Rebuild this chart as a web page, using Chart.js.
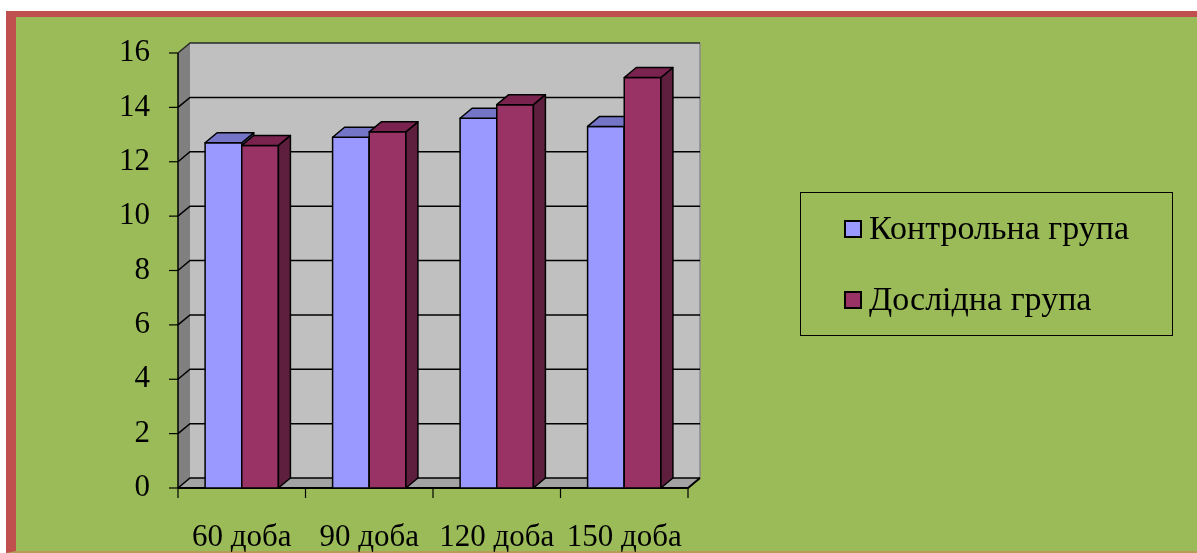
<!DOCTYPE html>
<html>
<head>
<meta charset="utf-8">
<script src="https://cdn.jsdelivr.net/npm/chart.js@4"></script>
<style>
  html, body { margin: 0; padding: 0; background: #fff; overflow: hidden; }
  #frame {
    position: absolute; left: 6px; top: 11px; width: 1200px; height: 534px;
    background: #9bbb59; border-left: 10px solid #c0504d; border-top: 6px solid #c0504d;
    border-bottom: 2px solid #b59c58;
  }
  #out { position: absolute; left: 0; top: 0; }
</style>
</head>
<body>
<div id="frame"></div>
<canvas id="out" width="1197" height="553"></canvas>
<script>
const days = ["60 доба", "90 доба", "120 доба", "150 доба"];
const controlGroup = [12.7, 12.9, 13.6, 13.3];
const testGroup = [12.6, 13.1, 14.1, 15.1];
const yTicks = { min: 0, max: 16, step: 2 };

const FONT = "'Liberation Serif', 'Times New Roman', serif";
const DX = 12, DY = 10; // depth of the 3d box

function poly(ctx, pts, fill, stroke, lw) {
  ctx.beginPath();
  ctx.moveTo(pts[0][0], pts[0][1]);
  for (let i = 1; i < pts.length; i++) ctx.lineTo(pts[i][0], pts[i][1]);
  ctx.closePath();
  if (fill) { ctx.fillStyle = fill; ctx.fill(); }
  if (stroke) { ctx.strokeStyle = stroke; ctx.lineWidth = lw || 1; ctx.stroke(); }
}

function line(ctx, pts, color, lw) {
  ctx.beginPath();
  ctx.moveTo(pts[0][0], pts[0][1]);
  for (let i = 1; i < pts.length; i++) ctx.lineTo(pts[i][0], pts[i][1]);
  ctx.strokeStyle = color;
  ctx.lineWidth = lw || 1;
  ctx.stroke();
}

// walls, floor, gridlines, axes, 3d bars and the legend
const boxPlugin = {
  id: "box3d",
  beforeDatasetsDraw(chart) {
    const ctx = chart.ctx;
    const { left, right, top, bottom } = chart.chartArea;
    const y = chart.scales.y;
    const x = chart.scales.x;
    ctx.save();
    // back wall
    poly(ctx, [[left + DX, top - DY], [right + DX, top - DY], [right + DX, bottom - DY], [left + DX, bottom - DY]], "#c0c0c0");
    line(ctx, [[right + DX, top - DY], [right + DX, bottom - DY]], "#8a8a8a", 1.5);
    // left wall
    poly(ctx, [[left, top], [left + DX, top - DY], [left + DX, bottom - DY], [left, bottom]], "#808080");
    // floor
    poly(ctx, [[left, bottom], [right, bottom], [right + DX, bottom - DY], [left + DX, bottom - DY]], "#a3a3a3");
    // gridlines
    for (let v = yTicks.min; v <= yTicks.max; v += yTicks.step) {
      const py = y.getPixelForValue(v);
      const col = v === yTicks.max ? "#2a2a2a" : "#000";
      line(ctx, [[left, py], [left + DX, py - DY], [right + DX, py - DY]], col, 1.5);
      line(ctx, [[left - 9, py], [left, py]], "#000", 1.2);
    }
    // axes
    line(ctx, [[left, top], [left, bottom]], "#000", 1.5);
    line(ctx, [[left, bottom], [right, bottom], [right + DX, bottom - DY]], "#000", 2);
    for (let i = 0; i <= days.length; i++) {
      const px = x.getPixelForValue(i - 0.5);
      line(ctx, [[px, bottom], [px, bottom + 10]], "#000", 1.2);
    }
    ctx.restore();
  },
  beforeDatasetDraw() {
    return false; // bars are drawn as boxes below
  },
  afterDatasetsDraw(chart) {
    const ctx = chart.ctx;
    ctx.save();
    ctx.lineJoin = "round";
    chart.data.datasets.forEach((ds, di) => {
      chart.getDatasetMeta(di).data.forEach(el => {
        const p = el.getProps(["x", "y", "base", "width"], true);
        const l = p.x - p.width / 2, r = p.x + p.width / 2;
        poly(ctx, [[l, p.y], [r, p.y], [r, p.base], [l, p.base]], ds.backgroundColor, "#000", 1.5);
        poly(ctx, [[r, p.y], [r + DX, p.y - DY], [r + DX, p.base - DY], [r, p.base]], ds.sideColor, "#000", 1.5);
        poly(ctx, [[l, p.y], [l + DX, p.y - DY], [r + DX, p.y - DY], [r, p.y]], ds.topColor, "#000", 1.5);
      });
    });
    ctx.restore();
  },
  afterDraw(chart) {
    const ctx = chart.ctx;
    ctx.save();
    // legend box
    ctx.strokeStyle = "#000";
    ctx.lineWidth = 1;
    ctx.strokeRect(800.5, 192.5, 372, 143);
    const rows = [229, 300];
    chart.data.datasets.forEach((ds, k) => {
      ctx.fillStyle = ds.backgroundColor;
      ctx.fillRect(845, rows[k] - 8, 16, 16);
      ctx.strokeStyle = "#000";
      ctx.lineWidth = 2;
      ctx.strokeRect(845, rows[k] - 8, 16, 16);
      ctx.fillStyle = "#000";
      ctx.font = "34px " + FONT;
      ctx.textBaseline = "middle";
      ctx.textAlign = "left";
      ctx.fillText(ds.label, 869, rows[k] + 1);
    });
    ctx.restore();
  }
};

const ctx = document.getElementById("out").getContext("2d");
new Chart(ctx, {
  type: "bar",
  data: {
    labels: days,
    datasets: [
      {
        label: "Контрольна група",
        data: controlGroup,
        backgroundColor: "#9999ff",
        topColor: "#7575c7",
        sideColor: "#5c5c99"
      },
      {
        label: "Дослідна група",
        data: testGroup,
        backgroundColor: "#993366",
        topColor: "#7a234f",
        sideColor: "#5e1f3e"
      }
    ]
  },
  options: {
    responsive: false,
    animation: false,
    devicePixelRatio: 1,
    layout: { padding: { top: 53, right: 509, left: 0, bottom: 0 } },
    datasets: { bar: { categoryPercentage: 0.575, barPercentage: 1 } },
    plugins: { legend: { display: false }, tooltip: { enabled: false } },
    scales: {
      x: {
        grid: { display: false, drawTicks: false },
        border: { display: false },
        ticks: { color: "#000", font: { family: FONT, size: 31 }, padding: 31, maxRotation: 0 },
        afterFit: s => { s.height = 65; }
      },
      y: {
        min: yTicks.min,
        max: yTicks.max,
        grid: { display: false, drawTicks: false },
        border: { display: false },
        ticks: { stepSize: yTicks.step, color: "#000", font: { family: FONT, size: 31 }, padding: 28 },
        afterFit: s => { s.width = 178; }
      }
    }
  },
  plugins: [boxPlugin]
});
</script>
</body>
</html>
